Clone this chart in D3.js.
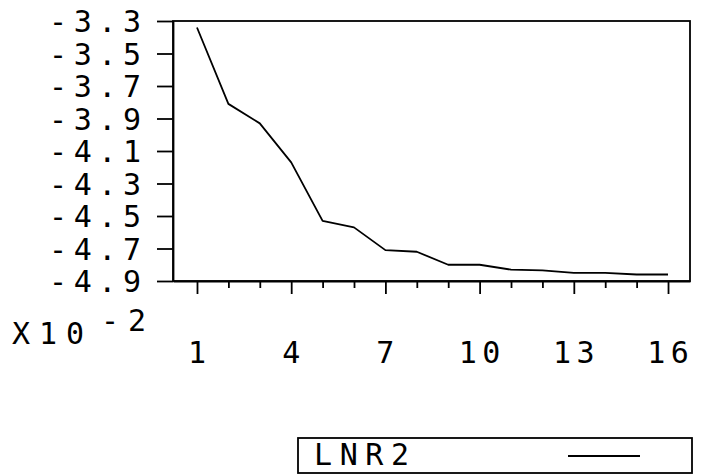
<!DOCTYPE html>
<html>
<head>
<meta charset="utf-8">
<script src="https://cdn.jsdelivr.net/npm/d3@7"></script>
<style>
  html, body { margin: 0; padding: 0; background: #fff; }
  svg { display: block; }
  text { font-family: "DejaVu Sans Mono", monospace; fill: #000; }
</style>
</head>
<body>
<svg id="chart" width="706" height="475"></svg>
<script>
// ---- data ----
const xValues = [1, 2, 3, 4, 5, 6, 7, 8, 9, 10, 11, 12, 13, 14, 15, 16];
const lnr2 = [-3.34, -3.81, -3.93, -4.17, -4.53, -4.57, -4.71, -4.72, -4.80, -4.80, -4.83, -4.835, -4.85, -4.85, -4.86, -4.86];
const yTicks = [-3.3, -3.5, -3.7, -3.9, -4.1, -4.3, -4.5, -4.7, -4.9];
const yTickLabels = ["-3.3", "-3.5", "-3.7", "-3.9", "-4.1", "-4.3", "-4.5", "-4.7", "-4.9"];
const xMajorTicks = [1, 4, 7, 10, 13, 16];
const xMinorTicks = [2, 3, 5, 6, 8, 9, 11, 12, 14, 15];
const seriesName = "LNR2";
const scaleNote = "X10";
const scaleExp = "-2";

// ---- layout ----
const frame = { left: 173, right: 690, top: 21, bottom: 281 };
const svg = d3.select("#chart");
const x = d3.scaleLinear().domain([0.236, 16.70]).range([frame.left, frame.right]);
const y = d3.scaleLinear().domain([-3.3, -4.9]).range([frame.top, frame.bottom]);
const FS = 30;
const ADV = 0.602 * FS; // DejaVu Sans Mono advance

// frame
svg.append("rect")
  .attr("x", frame.left).attr("y", frame.top)
  .attr("width", frame.right - frame.left).attr("height", frame.bottom - frame.top)
  .attr("fill", "none").attr("stroke", "#000").attr("stroke-width", 1.8);

// y axis ticks
const yAxis = d3.axisLeft(y).tickValues(yTicks).tickSize(16).tickSizeOuter(0).tickFormat("");
const gy = svg.append("g").attr("transform", `translate(${frame.left},0)`).call(yAxis);
gy.select(".domain").attr("stroke-width", 1.8);
gy.selectAll(".tick line").attr("stroke-width", 1.8);

// y tick labels (spaced characters)
svg.append("g").selectAll("text").data(yTicks).join("text")
  .attr("x", 49)
  .attr("y", d => y(d) + 11)
  .attr("font-size", FS)
  .attr("letter-spacing", 6.6)
  .text((d, i) => yTickLabels[i]);

// x axis ticks
const xMajor = d3.axisBottom(x).tickValues(xMajorTicks).tickSize(13).tickSizeOuter(0).tickFormat("");
const gx = svg.append("g").attr("transform", `translate(0,${frame.bottom})`).call(xMajor);
gx.select(".domain").attr("stroke-width", 1.8);
gx.selectAll(".tick line").attr("stroke-width", 1.8);
const xMinor = d3.axisBottom(x).tickValues(xMinorTicks).tickSize(7).tickSizeOuter(0).tickFormat("");
const gx2 = svg.append("g").attr("transform", `translate(0,${frame.bottom})`).call(xMinor);
gx2.select(".domain").remove();
gx2.selectAll(".tick line").attr("stroke-width", 1.8);

// x tick labels
const xls = 5.4;
svg.append("g").selectAll("text").data(xMajorTicks).join("text")
  .attr("x", d => {
    const n = String(d).length;
    return x(d) - (n * ADV + (n - 1) * xls) / 2;
  })
  .attr("y", 363)
  .attr("font-size", FS)
  .attr("letter-spacing", xls)
  .text(d => String(d));

// scale note X10^-2
svg.append("text").attr("x", 12).attr("y", 344).attr("font-size", FS)
  .attr("letter-spacing", 9).text(scaleNote);
svg.append("text").attr("x", 101).attr("y", 331).attr("font-size", FS)
  .attr("letter-spacing", 9).text(scaleExp);

// data line
const line = d3.line().x((d, i) => x(xValues[i])).y(d => y(d));
svg.append("path").datum(lnr2)
  .attr("d", line)
  .attr("fill", "none").attr("stroke", "#000").attr("stroke-width", 1.8)
  .attr("stroke-linejoin", "round");

// legend
const lg = svg.append("g");
lg.append("rect").attr("x", 298).attr("y", 438).attr("width", 394).attr("height", 35)
  .attr("fill", "none").attr("stroke", "#000").attr("stroke-width", 1.8);
lg.append("text").attr("x", 314).attr("y", 465).attr("font-size", FS)
  .attr("letter-spacing", 7.6).text(seriesName);
lg.append("line").attr("x1", 568).attr("x2", 640).attr("y1", 456).attr("y2", 456)
  .attr("stroke", "#000").attr("stroke-width", 1.8);
</script>
</body>
</html>
